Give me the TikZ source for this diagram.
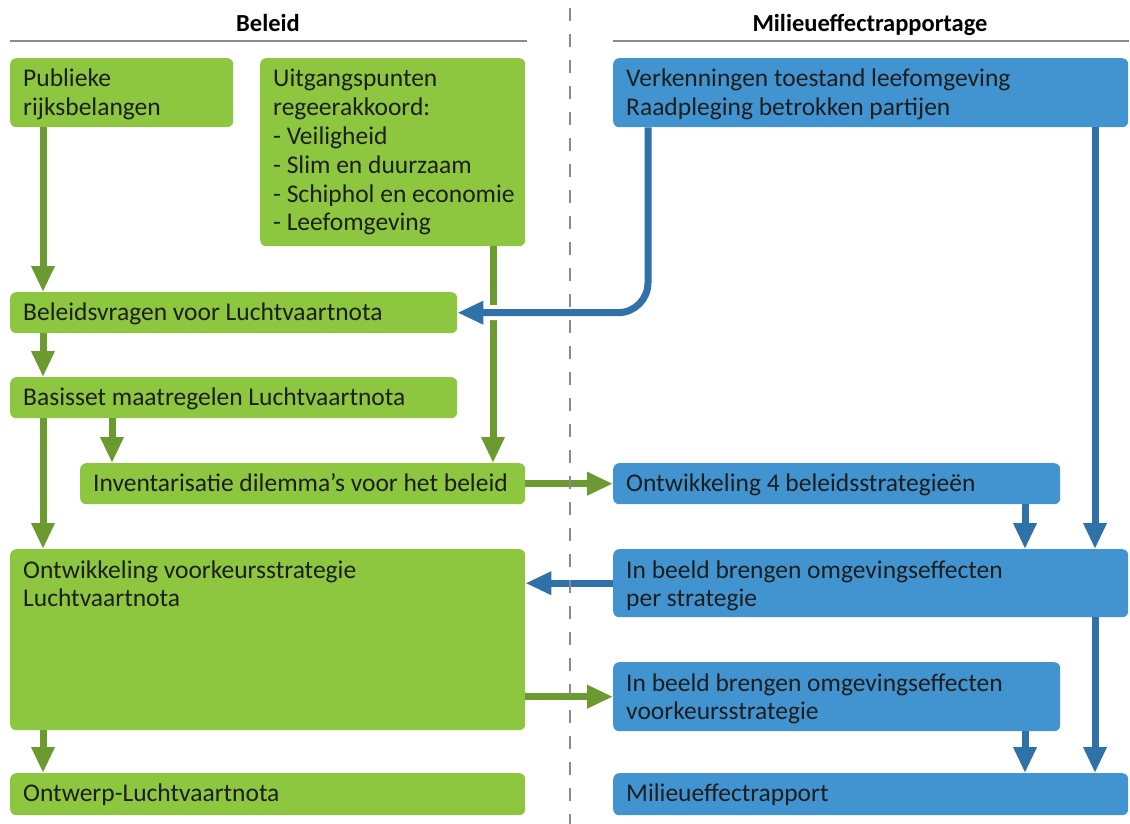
\documentclass[tikz,border=0pt]{standalone}
\usepackage{fontspec}
\setmainfont{Carlito}
\usetikzlibrary{arrows.meta}
\definecolor{gfill}{HTML}{8DC63F}
\definecolor{garr}{HTML}{6B9B30}
\definecolor{bfill}{HTML}{4294D1}
\definecolor{barr}{HTML}{2F71A8}
\definecolor{txt}{HTML}{1E1E1E}
\definecolor{rule}{HTML}{8A8A8A}
\newcommand{\mytxt}[1]{\parbox[t]{16cm}{\raggedright #1}}
\begin{document}
\begin{tikzpicture}[x=1pt,y=-1pt,
  gbox/.style={fill=gfill, rounded corners=6pt, anchor=north west, inner sep=0pt, draw=none},
  bbox/.style={fill=bfill, rounded corners=6pt, anchor=north west, inner sep=0pt, draw=none},
  lbl/.style={anchor=base west, inner sep=0pt, text=txt, font=\fontsize{25.5}{28.8}\selectfont},
  head/.style={anchor=base, inner sep=0pt, text=black, font=\fontsize{24.5}{26}\selectfont\bfseries},
  garrow/.style={draw=garr, line width=7pt, -{Triangle[width=22pt,length=26pt]}},
  barrow/.style={draw=barr, line width=7pt, -{Triangle[width=22pt,length=26pt]}},
  halo/.style={draw=white, line width=15pt},
  divider/.style={draw=rule, line width=1.5pt, dash pattern=on 13pt off 13pt},
  hrule/.style={draw=rule, line width=1.5pt},
]
\useasboundingbox (0,0) rectangle (1130,824);

% headers
\node[head] (hBel) at (268,32) {Beleid};
\node[head] (hMer) at (870,32) {Milieueffectrapportage};
\coordinate (rl1) at (10,41);  \coordinate (rl2) at (527,41);
\coordinate (rr1) at (613,41); \coordinate (rr2) at (1129,41);
\draw[hrule] (rl1) -- (rl2);
\draw[hrule] (rr1) -- (rr2);

% boxes
\node[gbox, minimum width=223pt, minimum height=69pt] (pub) at (10,58) {};
\node[gbox, minimum width=265pt, minimum height=188pt] (uit) at (260,58) {};
\node[bbox, minimum width=515pt, minimum height=69pt] (verk) at (613,58) {};
\node[gbox, minimum width=447pt, minimum height=41pt] (bv) at (10,292) {};
\node[gbox, minimum width=447pt, minimum height=41pt] (bas) at (10,377) {};
\node[gbox, minimum width=445pt, minimum height=41pt] (inv) at (80,463) {};
\node[bbox, minimum width=447pt, minimum height=41pt] (ont4) at (613,463) {};
\node[gbox, minimum width=515pt, minimum height=181pt] (vk) at (10,549) {};
\node[bbox, minimum width=515pt, minimum height=68pt] (ibs) at (613,549) {};
\node[bbox, minimum width=447pt, minimum height=69pt] (ibv) at (613,662) {};
\node[gbox, minimum width=515pt, minimum height=42pt] (ow) at (10,773) {};
\node[bbox, minimum width=515pt, minimum height=42pt] (mer) at (613,773) {};

% texts
\node[lbl] (tpub) at (23,87) {\mytxt{Publieke\\rijksbelangen}};
\node[lbl] (tuit) at (273,87) {\mytxt{Uitgangspunten\\regeerakkoord:\\- Veiligheid\\- Slim en duurzaam\\- Schiphol en economie\\- Leefomgeving}};
\node[lbl] (tverk) at (626,87) {\mytxt{Verkenningen toestand leefomgeving\\Raadpleging betrokken partijen}};
\node[lbl] (tbv) at (23,320) {Beleidsvragen voor Luchtvaartnota};
\node[lbl] (tbas) at (23,405) {Basisset maatregelen Luchtvaartnota};
\node[lbl] (tinv) at (93,491) {Inventarisatie dilemma’s voor het beleid};
\node[lbl] (tont4) at (626,491) {Ontwikkeling 4 beleidsstrategieën};
\node[lbl] (tvk) at (23,578) {\mytxt{Ontwikkeling voorkeursstrategie\\Luchtvaartnota}};
\node[lbl] (tibs) at (626,578) {\mytxt{In beeld brengen omgevingseffecten\\per strategie}};
\node[lbl] (tibv) at (626,691) {\mytxt{In beeld brengen omgevingseffecten\\voorkeursstrategie}};
\node[lbl] (tow) at (23,801) {Ontwerp-Luchtvaartnota};
\node[lbl] (tmer) at (626,801) {Milieueffectrapport};

% column coordinates
\coordinate (xa) at (43,0);
\coordinate (xb) at (112,0);
\coordinate (xc) at (493,0);
\coordinate (xd) at (648,0);
\coordinate (xe) at (1095,0);
\coordinate (xf) at (1025,0);

% green arrows
\draw[garrow] (pub.south -| xa) -- (bv.north -| xa);
\draw[garrow] (bv.south -| xa) -- (bas.north -| xa);
\draw[garrow] (bas.south -| xa) -- (vk.north -| xa);
\draw[garrow] (bas.south -| xb) -- (inv.north -| xb);
\draw[garrow] (uit.south -| xc) -- (inv.north -| xc);
\draw[garrow] (inv.east) -- (ont4.west);
\draw[garrow] (ibv.west -| vk.east) -- (ibv.west);
\draw[garrow] (vk.south -| xa) -- (ow.north -| xa);

% blue arrows
\draw[halo, rounded corners=30pt, shorten >=26pt] (verk.south -| xd) |- (bv.east);
\draw[barrow, rounded corners=30pt] (verk.south -| xd) |- (bv.east);
\draw[barrow] (verk.south -| xe) -- (ibs.north -| xe);
\draw[barrow] (ont4.south -| xf) -- (ibs.north -| xf);
\draw[barrow] (ibs.west) -- (ibs.west -| vk.east);
\draw[barrow] (ibs.south -| xe) -- (mer.north -| xe);
\draw[barrow] (ibv.south -| xf) -- (mer.north -| xf);

% divider
\coordinate (d1) at (570,8);
\coordinate (d2) at (570,824);
\draw[divider] (d1) -- (d2);
\end{tikzpicture}
\end{document}
